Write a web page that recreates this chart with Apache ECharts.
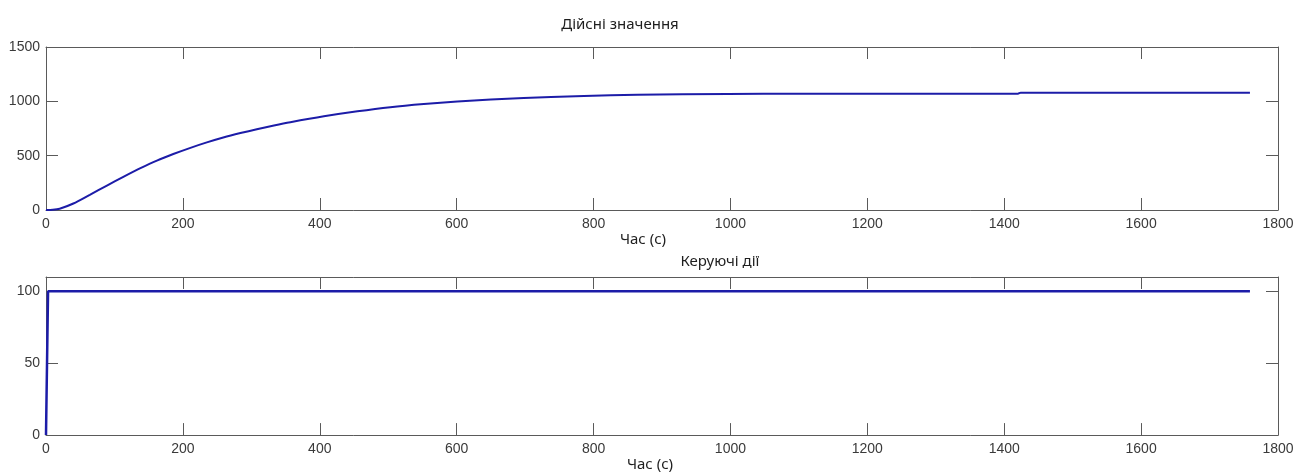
<!DOCTYPE html>
<html>
<head>
<meta charset="utf-8">
<script src="https://cdn.jsdelivr.net/npm/echarts@6/dist/echarts.min.js"></script>
<style>
  html, body { margin: 0; padding: 0; background: #ffffff; }
  #chart { width: 1298px; height: 473px; }
</style>
</head>
<body>
<div id="chart"></div>
<script>
// Actual values (top panel): time in seconds and measured value
const timeActual = [0, 10, 20, 40, 64, 89, 113, 138, 162, 186, 211, 235, 259, 284, 308, 333, 357, 406, 455, 503, 552, 601, 650, 698, 738, 786, 864, 996, 1100, 1420, 1424, 1759];
const valueActual = [0, 2, 12, 60, 140, 225, 305, 385, 455, 515, 572, 622, 667, 708, 744, 778, 808, 862, 908, 946, 975, 998, 1016, 1030, 1040, 1050, 1060, 1068, 1070, 1070, 1080, 1080];

// Control action (bottom panel)
const timeControl = [0, 3, 1759];
const valueControl = [0, 100, 100];

// Tick labels
const xTicks = [0, 200, 400, 600, 800, 1000, 1200, 1400, 1600, 1800];
const yTicksTop = [0, 500, 1000, 1500];
const yTicksBottom = [0, 50, 100];

const titleTop = 'Дійсні значення';
const titleBottom = 'Керуючі дії';
const xName = 'Час (с)';

const frameColor = '#5a5a5a';
const lineColor = '#1c1ca8';
const labelFont = { color: '#3a3a3a', fontFamily: 'Liberation Sans', fontSize: 14 };
const textFont = { color: '#1e1e1e', fontFamily: 'Noto Sans', fontSize: 15, fontWeight: 'normal' };

const zip = (xs, ys) => xs.map((x, i) => [x, ys[i]]);
const plain = (v) => String(v);

function xAxisPair(gridIndex, nameGap, namePadRight) {
  const base = {
    type: 'value', gridIndex, min: 0, max: 1800, interval: 200,
    axisLine: { show: true, onZero: false, lineStyle: { color: frameColor, width: 1 } },
    axisTick: { show: true, inside: true, length: 12, customValues: xTicks, lineStyle: { color: frameColor } },
    splitLine: { show: false }
  };
  return [
    Object.assign({}, base, {
      position: 'bottom',
      axisLabel: Object.assign({ margin: 7, customValues: xTicks, formatter: plain }, labelFont),
      name: xName, nameLocation: 'middle', nameGap,
      nameTextStyle: Object.assign({ padding: [0, namePadRight, 0, 0] }, textFont)
    }),
    Object.assign({}, base, { position: 'top', axisLabel: { show: false } })
  ];
}

function yAxisPair(gridIndex, max, interval, ticks) {
  const base = {
    type: 'value', gridIndex, min: 0, max, interval,
    axisLine: { show: true, onZero: false, lineStyle: { color: frameColor, width: 1 } },
    axisTick: { show: true, inside: true, length: 12, customValues: ticks, lineStyle: { color: frameColor } },
    splitLine: { show: false }
  };
  return [
    Object.assign({}, base, {
      position: 'left',
      axisLabel: Object.assign({ margin: 6, customValues: ticks, formatter: plain }, labelFont)
    }),
    Object.assign({}, base, { position: 'right', axisLabel: { show: false } })
  ];
}

const chart = echarts.init(document.getElementById('chart'), null, { renderer: 'canvas' });

const xs0 = xAxisPair(0, 14, 38);
const xs1 = xAxisPair(1, 15, 24);

chart.setOption({
  backgroundColor: '#ffffff',
  animation: false,
  title: [
    { text: titleTop, left: 615, top: 12, textAlign: 'center', textStyle: textFont },
    { text: titleBottom, left: 715, top: 249, textAlign: 'center', textStyle: textFont }
  ],
  grid: [
    { left: 46, top: 47, width: 1232, height: 163 },
    { left: 46, top: 277, width: 1232, height: 164 }
  ],
  xAxis: [xs0[0], xs0[1], xs1[0], xs1[1]],
  yAxis: yAxisPair(0, 1500, 500, yTicksTop).concat(yAxisPair(1, 110, 50, yTicksBottom)),
  series: [
    {
      type: 'line', xAxisIndex: 0, yAxisIndex: 0,
      data: zip(timeActual, valueActual),
      smooth: 0.3, showSymbol: false, clip: false,
      lineStyle: { color: lineColor, width: 2 }
    },
    {
      type: 'line', xAxisIndex: 2, yAxisIndex: 2,
      data: zip(timeControl, valueControl),
      showSymbol: false, clip: false,
      lineStyle: { color: lineColor, width: 2.5 }
    }
  ]
});
</script>
</body>
</html>
